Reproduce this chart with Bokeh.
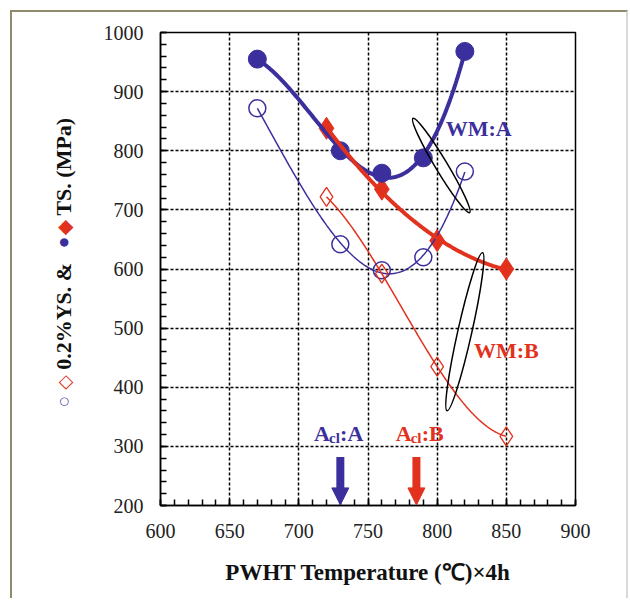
import math
import numpy as np
from bokeh.plotting import figure
from bokeh.layouts import row
from bokeh.models import (Range1d, Label, Arrow, NormalHead, SingleIntervalTicker)
from bokeh.embed import file_html
from bokeh.resources import INLINE

# ---------------- data ----------------
temp_A = [670, 730, 760, 790, 820]
ts_A = [955, 800, 762, 788, 968]
ys_A = [872, 642, 598, 620, 765]

temp_B = [720, 760, 800, 850]
ts_B = [838, 735, 648, 600]
ys_B = [722, 592, 435, 317]

ac1_A = 730
ac1_B = 785

# y-axis title pieces (bottom to top) and their centre along the value axis
ylab_text = ["\u25cb", "\u25c7", "0.2%YS. &", "\u25cf", "\u25c6", "TS. (MPa)"]
ylab_pos = [376, 408, 520, 645, 670, 773]

BLUE = "#3b2f9d"
RED = "#e2311d"
SERIF = "Liberation Serif"
OLIVE = "#8f8a6b"

LW = 88          # width of the strip holding the y title
PW = 526         # width of the main figure
HH = 586         # height of both
TOP, BOT = 20, 93

yr = Range1d(200, 1000)

p = figure(width=PW, height=HH, x_range=Range1d(600, 900), y_range=yr,
           output_backend="svg", toolbar_location=None,
           min_border_left=59, min_border_right=51, min_border_top=TOP, min_border_bottom=BOT)
p.background_fill_color = "white"
p.border_fill_color = "white"
p.outline_line_color = "black"
p.outline_line_width = 1.5

p.xaxis.ticker = SingleIntervalTicker(interval=50, num_minor_ticks=5)
p.yaxis.ticker = SingleIntervalTicker(interval=100, num_minor_ticks=5)
for ax in (p.xaxis, p.yaxis):
    ax.axis_line_width = 1.5
    ax.axis_line_color = "black"
    ax.major_tick_in = 6
    ax.major_tick_out = 0
    ax.minor_tick_in = 6
    ax.minor_tick_out = 0
    ax.major_tick_line_width = 1.5
    ax.minor_tick_line_width = 1.5
    ax.major_tick_line_color = "black"
    ax.minor_tick_line_color = "black"
    ax.major_label_text_font = SERIF
    ax.major_label_text_font_size = "20px"
    ax.major_label_text_color = "#222222"
p.xaxis.major_label_standoff = 18
p.yaxis.major_label_standoff = 17

p.xaxis.axis_label = "PWHT Temperature (\u2103)\u00d74h"
p.xaxis.axis_label_text_font = SERIF
p.xaxis.axis_label_text_font_style = "bold"
p.xaxis.axis_label_text_font_size = "23px"
p.xaxis.axis_label_text_color = "#111111"
p.xaxis.axis_label_standoff = 19

for g in (p.xgrid, p.ygrid):
    g.grid_line_color = "black"
    g.grid_line_dash = "3 2"
    g.grid_line_width = 1.5

# ---------------- smooth trend curves ----------------
def trend(xs, ys, deg):
    c = np.polyfit(xs, ys, deg)
    xx = np.linspace(min(xs), max(xs), 200)
    return xx, np.polyval(c, xx)

p.scatter(temp_B, ts_B, marker="diamond", size=22, fill_color=RED, line_color=RED)

xx, yy = trend(temp_A, ys_A, 3)
p.line(xx, yy, line_color=BLUE, line_width=1.5)
xx, yy = trend(temp_B, ys_B, 3)
p.line(xx, yy, line_color=RED, line_width=1.5)

p.scatter(temp_A, ys_A, marker="circle", size=17, fill_color=None, line_color=BLUE, line_width=1.5)
p.scatter(temp_B, ys_B, marker="diamond", size=19, fill_color=None, line_color=RED, line_width=1.3)

xx, yy = trend(temp_A, ts_A, 3)
p.line(xx, yy, line_color=BLUE, line_width=4)
p.scatter(temp_A, ts_A, marker="circle", size=18, fill_color=BLUE, line_color=BLUE)
xx, yy = trend(temp_B, ts_B, 2)
p.line(xx, yy, line_color=RED, line_width=4)

# ---------------- loops around groups ----------------
p.ellipse(x=[803], y=[775], width=[110], height=[12], angle=[-1.03],
          width_units="screen", height_units="screen",
          fill_color=None, line_color="black", line_width=1.5)
p.ellipse(x=[820], y=[494], width=[162], height=[14], angle=[1.35],
          width_units="screen", height_units="screen",
          fill_color=None, line_color="black", line_width=1.5)

# ---------------- annotations ----------------
p.add_layout(Label(x=830, y=838, text="WM:A", text_font=SERIF, text_font_style="bold",
                   text_font_size="22px", text_color=BLUE, text_align="center", text_baseline="middle"))
p.add_layout(Label(x=850, y=462, text="WM:B", text_font=SERIF, text_font_style="bold",
                   text_font_size="22px", text_color=RED, text_align="center", text_baseline="middle"))

for xpos, letter, col in ((711, "A", BLUE), (770, "B", RED)):
    p.add_layout(Label(x=xpos, y=322, text="A", text_font=SERIF, text_font_style="bold",
                       text_font_size="22px", text_color=col, text_baseline="middle"))
    p.add_layout(Label(x=xpos, y=322, x_offset=15, y_offset=-5, text="cl", text_font=SERIF,
                       text_font_style="bold", text_font_size="15px", text_color=col,
                       text_baseline="middle"))
    p.add_layout(Label(x=xpos, y=322, x_offset=26, text=":" + letter, text_font=SERIF,
                       text_font_style="bold", text_font_size="22px", text_color=col,
                       text_baseline="middle"))

for xpos, col in ((ac1_A, BLUE), (ac1_B, RED)):
    p.add_layout(Arrow(end=NormalHead(size=17, fill_color=col, line_color=col),
                       x_start=xpos, y_start=282, x_end=xpos, y_end=201,
                       line_width=8, line_color=col))

# ---------------- strip carrying the y-axis title ----------------
L = figure(width=LW, height=HH, x_range=Range1d(0, 1), y_range=yr,
           output_backend="svg", toolbar_location=None,
           x_axis_type=None, y_axis_type=None,
           min_border_left=0, min_border_right=0, min_border_top=TOP, min_border_bottom=BOT)
L.grid.visible = False
L.outline_line_color = None
L.background_fill_color = "white"
L.border_fill_color = "white"

ycol = [BLUE, RED, "#111111", BLUE, RED, "#111111"]
yfont = ["DejaVu Sans", "DejaVu Sans", SERIF, "DejaVu Sans", "DejaVu Sans", SERIF]
ysize = ["11px", "19px", "22px", "11px", "20px", "22px"]
ystyle = ["normal", "normal", "bold", "normal", "normal", "bold"]
for t, yv, c, f, s, st in zip(ylab_text, ylab_pos, ycol, yfont, ysize, ystyle):
    L.add_layout(Label(x=0.58, y=yv, text=t, text_color=c, text_font=f,
                       text_font_size=s, text_font_style=st, angle=math.pi / 2,
                       text_align="center", text_baseline="middle"))

lay = row(L, p, spacing=0)
lay.styles = {
    "margin-left": "10px", "margin-top": "10px",
    "border-left": f"2px solid {OLIVE}", "border-top": f"2px solid {OLIVE}",
    "border-right": "2px solid #d9d9d9",
}

open("out.html", "w").write(file_html(lay, INLINE))
